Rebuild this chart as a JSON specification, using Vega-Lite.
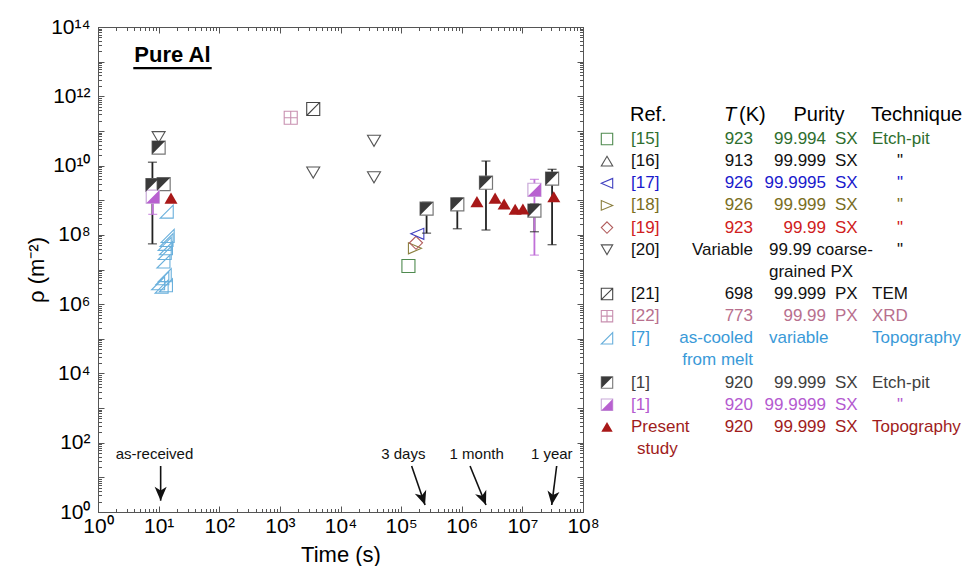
{
  "$schema": "https://vega.github.io/schema/vega-lite/v6.json",
  "padding": {"left": 25, "top": 15, "right": 0, "bottom": 0},
  "config": {
    "font": "Liberation Sans",
    "axis": {"grid": false, "domainColor": "#555", "tickColor": "#555", "labelFont": "Liberation Sans", "titleFont": "Liberation Sans", "labelFontSize": 21, "titleFontSize": 22, "labelColor": "#000", "titleColor": "#000", "titleFontWeight": "normal"},
    "view": {"stroke": "#555"}
  },
  "datasets": {
    "pts": [
      {"t": 10, "rho": 6.6e10, "s": "20"},
      {"t": 3550, "rho": 6.3e9, "s": "20"},
      {"t": 35700, "rho": 5.2e10, "s": "20"},
      {"t": 35700, "rho": 4.6e9, "s": "20"},
      {"t": 3550, "rho": 4.3e11, "s": "21"},
      {"t": 1510, "rho": 2.4e11, "s": "22"},
      {"t": 132000, "rho": 1.26e7, "s": "15"},
      {"t": 169000, "rho": 4.1e7, "s": "18"},
      {"t": 176000, "rho": 5.9e7, "s": "19"},
      {"t": 185000, "rho": 1.07e8, "s": "17"},
      {"t": 13.6, "rho": 4.7e8, "s": "7"},
      {"t": 14.1, "rho": 9.3e7, "s": "7"},
      {"t": 13.5, "rho": 7.1e7, "s": "7"},
      {"t": 12.6, "rho": 5.5e7, "s": "7"},
      {"t": 13.2, "rho": 4.1e7, "s": "7"},
      {"t": 12.6, "rho": 3.0e7, "s": "7"},
      {"t": 12.0, "rho": 1.7e7, "s": "7"},
      {"t": 12.6, "rho": 6.9e6, "s": "7"},
      {"t": 11.5, "rho": 5.6e6, "s": "7"},
      {"t": 9.8, "rho": 4.0e6, "s": "7"},
      {"t": 11.2, "rho": 3.2e6, "s": "7"},
      {"t": 13.2, "rho": 3.5e6, "s": "7"},
      {"t": 10, "rho": 3.3e10, "s": "1a"},
      {"t": 7.9, "rho": 2.75e9, "s": "1a"},
      {"t": 12.1, "rho": 2.9e9, "s": "1a"},
      {"t": 263000, "rho": 5.7e8, "s": "1a"},
      {"t": 845000, "rho": 7.6e8, "s": "1a"},
      {"t": 2.51e6, "rho": 3.2e9, "s": "1a"},
      {"t": 1.58e7, "rho": 5.0e8, "s": "1a"},
      {"t": 3.09e7, "rho": 4.2e9, "s": "1a"},
      {"t": 8.0, "rho": 1.26e9, "s": "1b"},
      {"t": 1.58e7, "rho": 2.0e9, "s": "1b"},
      {"t": 16.0, "rho": 1.15e9, "s": "P"},
      {"t": 1.78e6, "rho": 9.1e8, "s": "P"},
      {"t": 3.55e6, "rho": 1.15e9, "s": "P"},
      {"t": 5.0e6, "rho": 7.8e8, "s": "P"},
      {"t": 7.6e6, "rho": 5.5e8, "s": "P"},
      {"t": 1.02e7, "rho": 5.6e8, "s": "P"},
      {"t": 3.3e7, "rho": 1.26e9, "s": "P"}
    ],
    "err": [
      {"t": 7.9, "lo": 5.5e7, "hi": 1.25e10, "s": "1a"},
      {"t": 263000, "lo": 1.12e8, "hi": 8.7e8, "s": "1a"},
      {"t": 845000, "lo": 1.5e8, "hi": 1.15e9, "s": "1a"},
      {"t": 2.51e6, "lo": 1.38e8, "hi": 1.35e10, "s": "1a"},
      {"t": 1.58e7, "lo": 1.23e8, "hi": 7.8e8, "s": "1a"},
      {"t": 3.09e7, "lo": 5.2e7, "hi": 7.8e9, "s": "1a"},
      {"t": 8.0, "lo": 3.9e8, "hi": 4.1e9, "s": "1b"},
      {"t": 1.58e7, "lo": 2.6e7, "hi": 4.0e9, "s": "1b"}
    ],
    "arr": [
      {"label": "as-received", "tx": 8.55, "ty": 47, "x1": 10.8, "y1": 21.3, "x2": 10.8, "y2": 2.12},
      {"label": "3 days", "tx": 108700, "ty": 47, "x1": 149000, "y1": 21.3, "x2": 248000, "y2": 1.59},
      {"label": "1 month", "tx": 1.76e6, "ty": 47, "x1": 1.37e6, "y1": 21.3, "x2": 2.51e6, "y2": 1.59},
      {"label": "1 year", "tx": 3.05e7, "ty": 47, "x1": 3.68e7, "y1": 21.3, "x2": 3.05e7, "y2": 1.59}
    ],
    "tbl": [
      {"line": 1, "key": "15", "ref": "[15]", "T": "923", "pn": "99.994", "pk": "SX", "tech": "Etch-pit"},
      {"line": 2, "key": "16", "ref": "[16]", "T": "913", "pn": "99.999", "pk": "SX", "ditto": "\""},
      {"line": 3, "key": "17", "ref": "[17]", "T": "926", "pn": "99.9995", "pk": "SX", "ditto": "\""},
      {"line": 4, "key": "18", "ref": "[18]", "T": "926", "pn": "99.999", "pk": "SX", "ditto": "\""},
      {"line": 5, "key": "19", "ref": "[19]", "T": "923", "pn": "99.99", "pk": "SX", "ditto": "\""},
      {"line": 6, "key": "20", "ref": "[20]", "T": "Variable", "pl": "99.99 coarse-", "ditto": "\""},
      {"line": 7, "key": "20", "pl": "grained PX"},
      {"line": 8, "key": "21", "ref": "[21]", "T": "698", "pn": "99.999", "pk": "PX", "tech": "TEM"},
      {"line": 9, "key": "22", "ref": "[22]", "T": "773", "pn": "99.99", "pk": "PX", "tech": "XRD"},
      {"line": 10, "key": "7", "ref": "[7]", "T": "as-cooled", "pl": "variable", "tech": "Topography"},
      {"line": 11, "key": "7", "T": "from melt"},
      {"line": 12, "key": "1a", "ref": "[1]", "T": "920", "pn": "99.999", "pk": "SX", "tech": "Etch-pit"},
      {"line": 13, "key": "1b", "ref": "[1]", "T": "920", "pn": "99.9999", "pk": "SX", "ditto": "\""},
      {"line": 14, "key": "P", "ref": "Present", "T": "920", "pn": "99.999", "pk": "SX", "tech": "Topography"},
      {"line": 15, "key": "P", "cont": "study"}
    ],
    "hdr": [
      {"line": 0, "ref": "Ref.", "T": "T", "K": "(K)", "pur": "Purity", "tech": "Technique"}
    ]
  },
  "spacing": -1,
  "resolve": {"scale": {"color": "independent"}},
  "hconcat": [
    {
      "width": 485,
      "height": 485,
      "resolve": {"axis": {"x": "independent", "y": "independent"}},
      "layer": [
        {
          "data": {"name": "pts"},
          "mark": {"type": "point", "opacity": 0},
          "encoding": {
            "x": {"field": "t", "type": "quantitative", "scale": {"type": "log", "domain": [1, 1e8], "nice": false},
              "axis": {"orient": "bottom", "title": "Time (s)", "grid": false,
                "values": [1,2,3,4,5,6,7,8,9,10,20,30,40,50,60,70,80,90,100,200,300,400,500,600,700,800,900,1e3,2e3,3e3,4e3,5e3,6e3,7e3,8e3,9e3,1e4,2e4,3e4,4e4,5e4,6e4,7e4,8e4,9e4,1e5,2e5,3e5,4e5,5e5,6e5,7e5,8e5,9e5,1e6,2e6,3e6,4e6,5e6,6e6,7e6,8e6,9e6,1e7,2e7,3e7,4e7,5e7,6e7,7e7,8e7,9e7,1e8],
                "labelExpr": "abs(log(datum.value)/LN10-round(log(datum.value)/LN10))<1e-6 ? '10'+['⁰','¹','²','³','⁴','⁵','⁶','⁷','⁸','⁹'][round(log(datum.value)/LN10)] : ''",
                "tickSize": {"condition": {"test": "abs(log(datum.value)/LN10-round(log(datum.value)/LN10))<1e-6", "value": -6}, "value": -3.5},
                "labelPadding": 9, "labelFlush": false, "labelOverlap": false, "labelBound": false, "titlePadding": 6}},
            "y": {"field": "rho", "type": "quantitative", "scale": {"type": "log", "domain": [1, 1e14], "nice": false},
              "axis": {"orient": "left", "title": "ρ (m⁻²)", "grid": false,
                "values": [1,2,3,4,5,6,7,8,9,10,20,30,40,50,60,70,80,90,100,200,300,400,500,600,700,800,900,1e3,2e3,3e3,4e3,5e3,6e3,7e3,8e3,9e3,1e4,2e4,3e4,4e4,5e4,6e4,7e4,8e4,9e4,1e5,2e5,3e5,4e5,5e5,6e5,7e5,8e5,9e5,1e6,2e6,3e6,4e6,5e6,6e6,7e6,8e6,9e6,1e7,2e7,3e7,4e7,5e7,6e7,7e7,8e7,9e7,1e8,2e8,3e8,4e8,5e8,6e8,7e8,8e8,9e8,1e9,2e9,3e9,4e9,5e9,6e9,7e9,8e9,9e9,1e10,2e10,3e10,4e10,5e10,6e10,7e10,8e10,9e10,1e11,2e11,3e11,4e11,5e11,6e11,7e11,8e11,9e11,1e12,2e12,3e12,4e12,5e12,6e12,7e12,8e12,9e12,1e13,2e13,3e13,4e13,5e13,6e13,7e13,8e13,9e13,1e14],
                "labelExpr": "(abs(log(datum.value)/LN10-round(log(datum.value)/LN10))<1e-6 && round(log(datum.value)/LN10)%2==0) ? '10'+(round(log(datum.value)/LN10)>=10?'¹':'')+['⁰','¹','²','³','⁴','⁵','⁶','⁷','⁸','⁹'][round(log(datum.value)/LN10)%10] : ''",
                "tickSize": {"condition": {"test": "abs(log(datum.value)/LN10-round(log(datum.value)/LN10))<1e-6", "value": -6}, "value": -3.5},
                "labelPadding": 14, "labelFlush": false, "labelOverlap": false, "labelBound": false, "titlePadding": 2}}
          }
        },
        {
          "data": {"name": "pts"},
          "mark": {"type": "point", "opacity": 0},
          "encoding": {
            "x": {"field": "t", "type": "quantitative", "scale": {"type": "log", "domain": [1, 1e8], "nice": false},
              "axis": {"orient": "top", "title": null, "labels": false, "grid": false,
                "values": [1,2,3,4,5,6,7,8,9,10,20,30,40,50,60,70,80,90,100,200,300,400,500,600,700,800,900,1e3,2e3,3e3,4e3,5e3,6e3,7e3,8e3,9e3,1e4,2e4,3e4,4e4,5e4,6e4,7e4,8e4,9e4,1e5,2e5,3e5,4e5,5e5,6e5,7e5,8e5,9e5,1e6,2e6,3e6,4e6,5e6,6e6,7e6,8e6,9e6,1e7,2e7,3e7,4e7,5e7,6e7,7e7,8e7,9e7,1e8],
                "tickSize": {"condition": {"test": "abs(log(datum.value)/LN10-round(log(datum.value)/LN10))<1e-6", "value": -6}, "value": -3.5}}},
            "y": {"field": "rho", "type": "quantitative", "scale": {"type": "log", "domain": [1, 1e14], "nice": false},
              "axis": {"orient": "right", "title": null, "labels": false, "grid": false,
                "values": [1,2,3,4,5,6,7,8,9,10,20,30,40,50,60,70,80,90,100,200,300,400,500,600,700,800,900,1e3,2e3,3e3,4e3,5e3,6e3,7e3,8e3,9e3,1e4,2e4,3e4,4e4,5e4,6e4,7e4,8e4,9e4,1e5,2e5,3e5,4e5,5e5,6e5,7e5,8e5,9e5,1e6,2e6,3e6,4e6,5e6,6e6,7e6,8e6,9e6,1e7,2e7,3e7,4e7,5e7,6e7,7e7,8e7,9e7,1e8,2e8,3e8,4e8,5e8,6e8,7e8,8e8,9e8,1e9,2e9,3e9,4e9,5e9,6e9,7e9,8e9,9e9,1e10,2e10,3e10,4e10,5e10,6e10,7e10,8e10,9e10,1e11,2e11,3e11,4e11,5e11,6e11,7e11,8e11,9e11,1e12,2e12,3e12,4e12,5e12,6e12,7e12,8e12,9e12,1e13,2e13,3e13,4e13,5e13,6e13,7e13,8e13,9e13,1e14],
                "tickSize": {"condition": {"test": "abs(log(datum.value)/LN10-round(log(datum.value)/LN10))<1e-6", "value": -6}, "value": -3.5}}}
          }
        },
        {
          "data": {"name": "pts"},
          "transform": [{"filter": {"field": "s", "oneOf": ["15","16","17","18","19","20","21","22","7"]}}],
          "mark": {"type": "point", "filled": false, "size": 170, "strokeWidth": 1.1, "opacity": 1},
          "encoding": {
            "x": {"field": "t", "type": "quantitative", "axis": null},
            "y": {"field": "rho", "type": "quantitative", "axis": null},
            "shape": {"field": "s", "type": "nominal", "legend": null,
              "scale": {"domain": ["15","16","17","18","19","20","21","22","7","1a","1b","P"],
                "range": ["M-1,-1L1,-1L1,1L-1,1Z","M0,-0.85L1,0.85L-1,0.85Z","M-1,0L1,-0.85L1,0.85Z","M1,0L-1,-0.85L-1,0.85Z","M0,-1L1,0L0,1L-1,0Z","M-1,-0.85L1,-0.85L0,0.85Z","M-1,-1L1,-1L1,1L-1,1ZM-1,1L1,-1","M-1,-1L1,-1L1,1L-1,1ZM0,-1L0,1M-1,0L1,0","M-1,1L1,1L1,-1Z","M-1,-1L1,-1L-1,1Z","M1,-1L1,1L-1,1Z","M0,-0.85L1,0.85L-1,0.85Z"]}},
            "stroke": {"field": "s", "type": "nominal", "legend": null,
              "scale": {"domain": ["15","16","17","18","19","20","21","22","7","1a","1b","P"],
                "range": ["#4f8a4f","#555555","#4040c0","#8c8040","#b05a5a","#555555","#444444","#c890b0","#6ab0dc","#777777","#c8a8d8","#b01c1c"]}}
          }
        },
        {
          "data": {"name": "err"},
          "mark": {"type": "rule", "strokeWidth": 1.8},
          "encoding": {
            "x": {"field": "t", "type": "quantitative", "axis": null},
            "y": {"field": "lo", "type": "quantitative", "axis": null},
            "y2": {"field": "hi"},
            "color": {"field": "s", "type": "nominal", "legend": null, "scale": {"domain": ["1a","1b"], "range": ["#222222","#c070d8"]}}
          }
        },
        {
          "data": {"name": "err"},
          "mark": {"type": "tick", "orient": "horizontal", "size": 9, "thickness": 1.3},
          "encoding": {
            "x": {"field": "t", "type": "quantitative", "axis": null},
            "y": {"field": "lo", "type": "quantitative", "axis": null},
            "color": {"field": "s", "type": "nominal", "legend": null, "scale": {"domain": ["1a","1b"], "range": ["#222222","#c070d8"]}}
          }
        },
        {
          "data": {"name": "err"},
          "mark": {"type": "tick", "orient": "horizontal", "size": 9, "thickness": 1.3},
          "encoding": {
            "x": {"field": "t", "type": "quantitative", "axis": null},
            "y": {"field": "hi", "type": "quantitative", "axis": null},
            "color": {"field": "s", "type": "nominal", "legend": null, "scale": {"domain": ["1a","1b"], "range": ["#222222","#c070d8"]}}
          }
        },
        {
          "data": {"name": "pts"},
          "transform": [{"filter": {"field": "s", "oneOf": ["1a","1b"]}}],
          "mark": {"type": "point", "shape": "square", "filled": true, "fill": "white", "size": 170, "strokeWidth": 1.2, "opacity": 1},
          "encoding": {
            "x": {"field": "t", "type": "quantitative", "axis": null},
            "y": {"field": "rho", "type": "quantitative", "axis": null},
            "stroke": {"field": "s", "type": "nominal", "legend": null,
              "scale": {"domain": ["15","16","17","18","19","20","21","22","7","1a","1b","P"],
                "range": ["#4f8a4f","#555555","#4040c0","#8c8040","#b05a5a","#555555","#444444","#c890b0","#6ab0dc","#777777","#c8a8d8","#b01c1c"]}}
          }
        },
        {
          "data": {"name": "pts"},
          "transform": [{"filter": {"field": "s", "oneOf": ["1a","1b","P"]}}],
          "mark": {"type": "point", "filled": true, "size": 170, "strokeWidth": 0, "opacity": 1},
          "encoding": {
            "x": {"field": "t", "type": "quantitative", "axis": null},
            "y": {"field": "rho", "type": "quantitative", "axis": null},
            "shape": {"field": "s", "type": "nominal", "legend": null,
              "scale": {"domain": ["15","16","17","18","19","20","21","22","7","1a","1b","P"],
                "range": ["M-1,-1L1,-1L1,1L-1,1Z","M0,-0.85L1,0.85L-1,0.85Z","M-1,0L1,-0.85L1,0.85Z","M1,0L-1,-0.85L-1,0.85Z","M0,-1L1,0L0,1L-1,0Z","M-1,-0.85L1,-0.85L0,0.85Z","M-1,-1L1,-1L1,1L-1,1ZM-1,1L1,-1","M-1,-1L1,-1L1,1L-1,1ZM0,-1L0,1M-1,0L1,0","M-1,1L1,1L1,-1Z","M-1,-1L1,-1L-1,1Z","M1,-1L1,1L-1,1Z","M0,-0.85L1,0.85L-1,0.85Z"]}},
            "fill": {"field": "s", "type": "nominal", "legend": null, "scale": {"domain": ["1a","1b","P"], "range": ["#3a3a3a","#b860d0","#a81818"]}}
          }
        },
        {
          "data": {"name": "arr"},
          "mark": {"type": "rule", "strokeWidth": 1.6, "color": "#111"},
          "encoding": {
            "x": {"field": "x1", "type": "quantitative", "axis": null},
            "y": {"field": "y1", "type": "quantitative", "axis": null},
            "x2": {"field": "x2"},
            "y2": {"field": "y2"}
          }
        },
        {
          "data": {"name": "arr"},
          "transform": [{"calculate": "atan2(-(log(datum.x2)-log(datum.x1))/LN10*60.6, -(log(datum.y2)-log(datum.y1))/LN10*34.64)*180/PI", "as": "ang"}],
          "mark": {"type": "point", "filled": true, "shape": "M0,0L-0.43,-1L0,-0.72L0.43,-1Z", "size": 784, "color": "#111", "opacity": 1},
          "encoding": {
            "x": {"field": "x2", "type": "quantitative", "axis": null},
            "y": {"field": "y2", "type": "quantitative", "axis": null},
            "angle": {"field": "ang", "type": "quantitative", "scale": null}
          }
        },
        {
          "data": {"name": "arr"},
          "mark": {"type": "text", "fontSize": 15, "color": "#111", "align": "center", "baseline": "middle"},
          "encoding": {
            "x": {"field": "tx", "type": "quantitative", "axis": null},
            "y": {"field": "ty", "type": "quantitative", "axis": null},
            "text": {"field": "label"}
          }
        },
        {
          "data": {"values": [{"label": "Pure Al"}]},
          "mark": {"type": "text", "fontSize": 22, "fontWeight": "bold", "color": "#000", "align": "center", "baseline": "middle"},
          "encoding": {
            "x": {"datum": 16.9, "type": "quantitative", "axis": null},
            "y": {"datum": 1.55e13, "type": "quantitative", "axis": null},
            "text": {"field": "label"}
          }
        },
        {
          "data": {"values": [{"label": "Pure Al"}]},
          "mark": {"type": "rule", "strokeWidth": 2.2, "color": "#000"},
          "encoding": {
            "x": {"datum": 3.82, "type": "quantitative", "axis": null},
            "x2": {"datum": 75.1},
            "y": {"datum": 6.5e12, "type": "quantitative", "axis": null}
          }
        }
      ]
    },
    {
      "width": 370,
      "height": 485,
      "view": {"stroke": null},
      "layer": [
        {
          "data": {"name": "tbl"},
          "transform": [{"filter": "isValid(datum.ref) && indexof(['15','16','17','18','19','20','21','22','7'], datum.key) >= 0"}],
          "mark": {"type": "point", "filled": false, "size": 130, "strokeWidth": 1.1, "opacity": 1},
          "encoding": {
            "x": {"datum": 13, "type": "quantitative", "scale": {"domain": [17, 387], "nice": false, "zero": false}, "axis": null},
            "y": {"field": "line", "type": "quantitative", "scale": {"domain": [0, 1, 15], "range": [88, 112, 422]}, "axis": null},
            "shape": {"field": "key", "type": "nominal", "legend": null,
              "scale": {"domain": ["15","16","17","18","19","20","21","22","7","1a","1b","P"],
                "range": ["M-1,-1L1,-1L1,1L-1,1Z","M0,-0.85L1,0.85L-1,0.85Z","M-1,0L1,-0.85L1,0.85Z","M1,0L-1,-0.85L-1,0.85Z","M0,-1L1,0L0,1L-1,0Z","M-1,-0.85L1,-0.85L0,0.85Z","M-1,-1L1,-1L1,1L-1,1ZM-1,1L1,-1","M-1,-1L1,-1L1,1L-1,1ZM0,-1L0,1M-1,0L1,0","M-1,1L1,1L1,-1Z","M-1,-1L1,-1L-1,1Z","M1,-1L1,1L-1,1Z","M0,-0.85L1,0.85L-1,0.85Z"]}},
            "stroke": {"field": "key", "type": "nominal", "legend": null,
              "scale": {"domain": ["15","16","17","18","19","20","21","22","7","1a","1b","P"],
                "range": ["#4f8a4f","#555555","#4040c0","#8c8040","#b05a5a","#555555","#444444","#c890b0","#6ab0dc","#777777","#c8a8d8","#b01c1c"]}}
          }
        },
        {
          "data": {"name": "tbl"},
          "transform": [{"filter": "isValid(datum.ref) && (datum.key == '1a' || datum.key == '1b')"}],
          "mark": {"type": "point", "shape": "square", "filled": true, "fill": "white", "size": 130, "strokeWidth": 1.1, "opacity": 1},
          "encoding": {
            "x": {"datum": 13, "type": "quantitative", "scale": {"domain": [17, 387], "nice": false, "zero": false}, "axis": null},
            "y": {"field": "line", "type": "quantitative", "scale": {"domain": [0, 1, 15], "range": [88, 112, 422]}, "axis": null},
            "stroke": {"field": "key", "type": "nominal", "legend": null,
              "scale": {"domain": ["15","16","17","18","19","20","21","22","7","1a","1b","P"],
                "range": ["#4f8a4f","#555555","#4040c0","#8c8040","#b05a5a","#555555","#444444","#c890b0","#6ab0dc","#777777","#c8a8d8","#b01c1c"]}}
          }
        },
        {
          "data": {"name": "tbl"},
          "transform": [{"filter": "isValid(datum.ref) && (datum.key == '1a' || datum.key == '1b' || datum.key == 'P')"}],
          "mark": {"type": "point", "filled": true, "size": 130, "strokeWidth": 0, "opacity": 1},
          "encoding": {
            "x": {"datum": 13, "type": "quantitative", "scale": {"domain": [17, 387], "nice": false, "zero": false}, "axis": null},
            "y": {"field": "line", "type": "quantitative", "scale": {"domain": [0, 1, 15], "range": [88, 112, 422]}, "axis": null},
            "shape": {"field": "key", "type": "nominal", "legend": null,
              "scale": {"domain": ["15","16","17","18","19","20","21","22","7","1a","1b","P"],
                "range": ["M-1,-1L1,-1L1,1L-1,1Z","M0,-0.85L1,0.85L-1,0.85Z","M-1,0L1,-0.85L1,0.85Z","M1,0L-1,-0.85L-1,0.85Z","M0,-1L1,0L0,1L-1,0Z","M-1,-0.85L1,-0.85L0,0.85Z","M-1,-1L1,-1L1,1L-1,1ZM-1,1L1,-1","M-1,-1L1,-1L1,1L-1,1ZM0,-1L0,1M-1,0L1,0","M-1,1L1,1L1,-1Z","M-1,-1L1,-1L-1,1Z","M1,-1L1,1L-1,1Z","M0,-0.85L1,0.85L-1,0.85Z"]}},
            "fill": {"field": "key", "type": "nominal", "legend": null, "scale": {"domain": ["1a","1b","P"], "range": ["#3a3a3a","#b860d0","#a81818"]}}
          }
        },
        {
          "data": {"name": "tbl"},
          "transform": [{"filter": "isValid(datum.ref)"}],
          "mark": {"type": "text", "fontSize": 17, "align": "left", "baseline": "middle"},
          "encoding": {
            "x": {"datum": 37, "type": "quantitative", "scale": {"domain": [17, 387], "nice": false, "zero": false}, "axis": null},
            "y": {"field": "line", "type": "quantitative", "scale": {"domain": [0, 1, 15], "range": [88, 112, 422]}, "axis": null},
            "text": {"field": "ref"},
            "color": {"field": "key", "type": "nominal", "legend": null,
              "scale": {"domain": ["15","16","17","18","19","20","21","22","7","1a","1b","P"],
                "range": ["#2e6e2e","#111111","#1a1acc","#7a6e1e","#d02020","#111111","#111111","#b8708e","#3a9ad8","#404040","#b45ad0","#a01c1c"]}}
          }
        },
        {
          "data": {"name": "tbl"},
          "transform": [{"filter": "isValid(datum.cont)"}],
          "mark": {"type": "text", "fontSize": 17, "align": "left", "baseline": "middle"},
          "encoding": {
            "x": {"datum": 43, "type": "quantitative", "scale": {"domain": [17, 387], "nice": false, "zero": false}, "axis": null},
            "y": {"field": "line", "type": "quantitative", "scale": {"domain": [0, 1, 15], "range": [88, 112, 422]}, "axis": null},
            "text": {"field": "cont"},
            "color": {"field": "key", "type": "nominal", "legend": null,
              "scale": {"domain": ["15","16","17","18","19","20","21","22","7","1a","1b","P"],
                "range": ["#2e6e2e","#111111","#1a1acc","#7a6e1e","#d02020","#111111","#111111","#b8708e","#3a9ad8","#404040","#b45ad0","#a01c1c"]}}
          }
        },
        {
          "data": {"name": "tbl"},
          "transform": [{"filter": "isValid(datum.T)"}],
          "mark": {"type": "text", "fontSize": 17, "align": "right", "baseline": "middle"},
          "encoding": {
            "x": {"datum": 159, "type": "quantitative", "scale": {"domain": [17, 387], "nice": false, "zero": false}, "axis": null},
            "y": {"field": "line", "type": "quantitative", "scale": {"domain": [0, 1, 15], "range": [88, 112, 422]}, "axis": null},
            "text": {"field": "T"},
            "color": {"field": "key", "type": "nominal", "legend": null,
              "scale": {"domain": ["15","16","17","18","19","20","21","22","7","1a","1b","P"],
                "range": ["#2e6e2e","#111111","#1a1acc","#7a6e1e","#d02020","#111111","#111111","#b8708e","#3a9ad8","#404040","#b45ad0","#a01c1c"]}}
          }
        },
        {
          "data": {"name": "tbl"},
          "transform": [{"filter": "isValid(datum.pl)"}],
          "mark": {"type": "text", "fontSize": 17, "align": "left", "baseline": "middle"},
          "encoding": {
            "x": {"datum": 175, "type": "quantitative", "scale": {"domain": [17, 387], "nice": false, "zero": false}, "axis": null},
            "y": {"field": "line", "type": "quantitative", "scale": {"domain": [0, 1, 15], "range": [88, 112, 422]}, "axis": null},
            "text": {"field": "pl"},
            "color": {"field": "key", "type": "nominal", "legend": null,
              "scale": {"domain": ["15","16","17","18","19","20","21","22","7","1a","1b","P"],
                "range": ["#2e6e2e","#111111","#1a1acc","#7a6e1e","#d02020","#111111","#111111","#b8708e","#3a9ad8","#404040","#b45ad0","#a01c1c"]}}
          }
        },
        {
          "data": {"name": "tbl"},
          "transform": [{"filter": "isValid(datum.pn)"}],
          "mark": {"type": "text", "fontSize": 17, "align": "right", "baseline": "middle"},
          "encoding": {
            "x": {"datum": 232, "type": "quantitative", "scale": {"domain": [17, 387], "nice": false, "zero": false}, "axis": null},
            "y": {"field": "line", "type": "quantitative", "scale": {"domain": [0, 1, 15], "range": [88, 112, 422]}, "axis": null},
            "text": {"field": "pn"},
            "color": {"field": "key", "type": "nominal", "legend": null,
              "scale": {"domain": ["15","16","17","18","19","20","21","22","7","1a","1b","P"],
                "range": ["#2e6e2e","#111111","#1a1acc","#7a6e1e","#d02020","#111111","#111111","#b8708e","#3a9ad8","#404040","#b45ad0","#a01c1c"]}}
          }
        },
        {
          "data": {"name": "tbl"},
          "transform": [{"filter": "isValid(datum.pk)"}],
          "mark": {"type": "text", "fontSize": 17, "align": "left", "baseline": "middle"},
          "encoding": {
            "x": {"datum": 241, "type": "quantitative", "scale": {"domain": [17, 387], "nice": false, "zero": false}, "axis": null},
            "y": {"field": "line", "type": "quantitative", "scale": {"domain": [0, 1, 15], "range": [88, 112, 422]}, "axis": null},
            "text": {"field": "pk"},
            "color": {"field": "key", "type": "nominal", "legend": null,
              "scale": {"domain": ["15","16","17","18","19","20","21","22","7","1a","1b","P"],
                "range": ["#2e6e2e","#111111","#1a1acc","#7a6e1e","#d02020","#111111","#111111","#b8708e","#3a9ad8","#404040","#b45ad0","#a01c1c"]}}
          }
        },
        {
          "data": {"name": "tbl"},
          "transform": [{"filter": "isValid(datum.tech)"}],
          "mark": {"type": "text", "fontSize": 17, "align": "left", "baseline": "middle"},
          "encoding": {
            "x": {"datum": 278, "type": "quantitative", "scale": {"domain": [17, 387], "nice": false, "zero": false}, "axis": null},
            "y": {"field": "line", "type": "quantitative", "scale": {"domain": [0, 1, 15], "range": [88, 112, 422]}, "axis": null},
            "text": {"field": "tech"},
            "color": {"field": "key", "type": "nominal", "legend": null,
              "scale": {"domain": ["15","16","17","18","19","20","21","22","7","1a","1b","P"],
                "range": ["#2e6e2e","#111111","#1a1acc","#7a6e1e","#d02020","#111111","#111111","#b8708e","#3a9ad8","#404040","#b45ad0","#a01c1c"]}}
          }
        },
        {
          "data": {"name": "tbl"},
          "transform": [{"filter": "isValid(datum.ditto)"}],
          "mark": {"type": "text", "fontSize": 17, "align": "center", "baseline": "middle"},
          "encoding": {
            "x": {"datum": 306, "type": "quantitative", "scale": {"domain": [17, 387], "nice": false, "zero": false}, "axis": null},
            "y": {"field": "line", "type": "quantitative", "scale": {"domain": [0, 1, 15], "range": [88, 112, 422]}, "axis": null},
            "text": {"field": "ditto"},
            "color": {"field": "key", "type": "nominal", "legend": null,
              "scale": {"domain": ["15","16","17","18","19","20","21","22","7","1a","1b","P"],
                "range": ["#2e6e2e","#111111","#1a1acc","#7a6e1e","#d02020","#111111","#111111","#b8708e","#3a9ad8","#404040","#b45ad0","#a01c1c"]}}
          }
        },
        {
          "data": {"name": "hdr"},
          "mark": {"type": "text", "fontSize": 20, "align": "left", "baseline": "middle", "color": "#000"},
          "encoding": {
            "x": {"datum": 36, "type": "quantitative", "scale": {"domain": [17, 387], "nice": false, "zero": false}, "axis": null},
            "y": {"field": "line", "type": "quantitative", "scale": {"domain": [0, 1, 15], "range": [88, 112, 422]}, "axis": null},
            "text": {"field": "ref"}
          }
        },
        {
          "data": {"name": "hdr"},
          "mark": {"type": "text", "fontSize": 20, "fontStyle": "italic", "align": "left", "baseline": "middle", "color": "#000"},
          "encoding": {
            "x": {"datum": 130, "type": "quantitative", "scale": {"domain": [17, 387], "nice": false, "zero": false}, "axis": null},
            "y": {"field": "line", "type": "quantitative", "scale": {"domain": [0, 1, 15], "range": [88, 112, 422]}, "axis": null},
            "text": {"field": "T"}
          }
        },
        {
          "data": {"name": "hdr"},
          "mark": {"type": "text", "fontSize": 20, "align": "left", "baseline": "middle", "color": "#000"},
          "encoding": {
            "x": {"datum": 145, "type": "quantitative", "scale": {"domain": [17, 387], "nice": false, "zero": false}, "axis": null},
            "y": {"field": "line", "type": "quantitative", "scale": {"domain": [0, 1, 15], "range": [88, 112, 422]}, "axis": null},
            "text": {"field": "K"}
          }
        },
        {
          "data": {"name": "hdr"},
          "mark": {"type": "text", "fontSize": 20, "align": "center", "baseline": "middle", "color": "#000"},
          "encoding": {
            "x": {"datum": 225, "type": "quantitative", "scale": {"domain": [17, 387], "nice": false, "zero": false}, "axis": null},
            "y": {"field": "line", "type": "quantitative", "scale": {"domain": [0, 1, 15], "range": [88, 112, 422]}, "axis": null},
            "text": {"field": "pur"}
          }
        },
        {
          "data": {"name": "hdr"},
          "mark": {"type": "text", "fontSize": 20, "align": "left", "baseline": "middle", "color": "#000"},
          "encoding": {
            "x": {"datum": 277, "type": "quantitative", "scale": {"domain": [17, 387], "nice": false, "zero": false}, "axis": null},
            "y": {"field": "line", "type": "quantitative", "scale": {"domain": [0, 1, 15], "range": [88, 112, 422]}, "axis": null},
            "text": {"field": "tech"}
          }
        }
      ]
    }
  ]
}
